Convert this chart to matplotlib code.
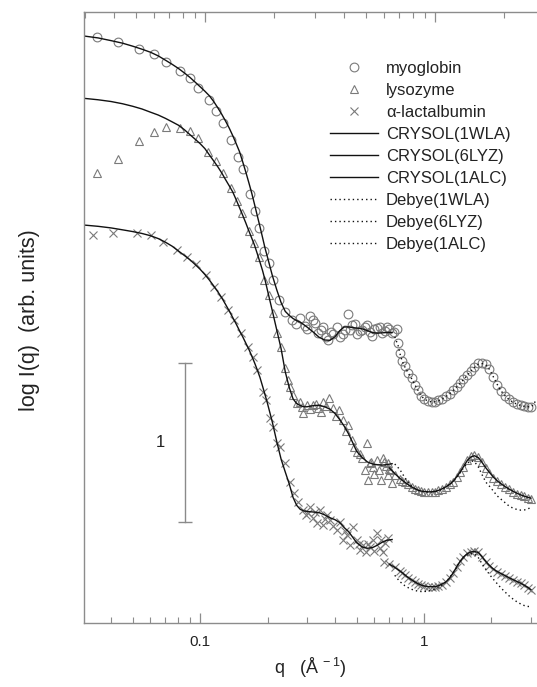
import numpy as np
import matplotlib
matplotlib.use("Agg")
import matplotlib.pyplot as plt
from matplotlib.ticker import LogLocator, NullFormatter, FixedLocator, FixedFormatter

plt.rcParams['font.family'] = ['Liberation Sans', 'DejaVu Sans']
plt.rcParams['mathtext.fontset'] = 'custom'
plt.rcParams['mathtext.rm'] = 'Liberation Sans'
plt.rcParams['mathtext.it'] = 'Liberation Sans'

# ---------------- data (q in 1/Angstrom, log I in arbitrary offset units) ----------------
# low-q experimental points
myo_low_q = [0.0348, 0.0430, 0.0535, 0.0624, 0.0705, 0.0815, 0.0902, 0.0977, 0.110, 0.118,
             0.126, 0.1375, 0.1474, 0.155, 0.167, 0.176, 0.184, 0.193, 0.204, 0.2125,
             0.226, 0.2395, 0.2566, 0.279, 0.294, 0.310, 0.326, 0.3375, 0.355, 0.373,
             0.3936, 0.422, 0.444, 0.459, 0.477, 0.502, 0.529, 0.557, 0.586, 0.617,
             0.649, 0.684, 0.720, 0.757,
             0.268, 0.300, 0.318, 0.345, 0.364, 0.384, 0.408, 0.433, 0.468, 0.490,
             0.515, 0.543, 0.571, 0.600, 0.633, 0.666, 0.700, 0.738]
myo_low = [3.684, 3.656, 3.612, 3.577, 3.530, 3.474, 3.426, 3.367, 3.289, 3.220,
           3.143, 3.038, 2.933, 2.853, 2.698, 2.593, 2.486, 2.340, 2.262, 2.157,
           2.031, 1.958, 1.906, 1.918, 1.868, 1.931, 1.887, 1.824, 1.862, 1.780,
           1.818, 1.799, 1.843, 1.943, 1.874, 1.818, 1.843, 1.874, 1.805, 1.855,
           1.824, 1.862, 1.824, 1.849,
           1.880, 1.850, 1.905, 1.840, 1.800, 1.830, 1.860, 1.820, 1.845, 1.880,
           1.835, 1.860, 1.830, 1.850, 1.860, 1.835, 1.850, 1.830]

lys_low_q = [0.0346, 0.0430, 0.0535, 0.0624, 0.0705, 0.0815, 0.0902, 0.0983, 0.1089, 0.118,
             0.126, 0.1375, 0.146, 0.1545, 0.166, 0.1745, 0.184, 0.193, 0.204, 0.2113,
             0.220, 0.229, 0.2395, 0.247, 0.252, 0.261, 0.270, 0.279, 0.289, 0.299,
             0.3206, 0.3375, 0.355, 0.378, 0.3936, 0.415, 0.4365, 0.459, 0.4754, 0.501,
             0.527, 0.5546, 0.574, 0.615, 0.658, 0.693, 0.56, 0.60, 0.64, 0.69, 0.72,
             0.284, 0.310, 0.330, 0.346, 0.366, 0.404, 0.447, 0.488, 0.515, 0.590,
             0.630, 0.675, 0.705, 0.580, 0.545]
lys_low = [2.828, 2.916, 3.031, 3.086, 3.118, 3.115, 3.096, 3.052, 2.964, 2.906,
           2.828, 2.738, 2.654, 2.577, 2.465, 2.390, 2.300, 2.157, 2.065, 1.948,
           1.822, 1.738, 1.602, 1.528, 1.486, 1.434, 1.382, 1.392, 1.319, 1.371,
           1.371, 1.350, 1.392, 1.413, 1.350, 1.340, 1.277, 1.245, 1.151, 1.077,
           1.036, 1.134, 1.004, 1.025, 1.036, 1.004, 0.900, 0.940, 0.900, 0.930, 0.880,
           1.360, 1.345, 1.380, 1.330, 1.365, 1.300, 1.210, 1.110, 1.060, 0.980,
           0.960, 0.985, 0.960, 1.010, 0.960]

lac_low_q = [0.0334, 0.0410, 0.0521, 0.0602, 0.0686, 0.0787, 0.0878, 0.0960, 0.1064, 0.1159,
             0.124, 0.1337, 0.142, 0.1525, 0.1643, 0.1718, 0.1804, 0.1918, 0.197, 0.2053,
             0.2118, 0.2207, 0.2276, 0.2395, 0.252, 0.263, 0.2748, 0.289, 0.297, 0.310,
             0.3194, 0.332, 0.3433, 0.354, 0.368, 0.380, 0.4076, 0.422, 0.4365, 0.453,
             0.4675, 0.483, 0.502, 0.518, 0.5345, 0.551, 0.574, 0.5916, 0.615, 0.636,
             0.656, 0.670, 0.691,
             0.303, 0.325, 0.360, 0.393, 0.445, 0.510, 0.560, 0.600, 0.645]
lac_low = [2.440, 2.455, 2.451, 2.440, 2.398, 2.346, 2.304, 2.258, 2.189, 2.115,
           2.052, 1.969, 1.906, 1.822, 1.738, 1.675, 1.591, 1.455, 1.403, 1.289,
           1.230, 1.132, 1.107, 1.006, 0.889, 0.818, 0.763, 0.711, 0.679, 0.731,
           0.660, 0.627, 0.711, 0.616, 0.679, 0.648, 0.585, 0.635, 0.522, 0.553,
           0.491, 0.606, 0.522, 0.459, 0.491, 0.447, 0.480, 0.522, 0.564, 0.472,
           0.447, 0.501, 0.535,
           0.690, 0.700, 0.655, 0.610, 0.580, 0.500, 0.500, 0.455, 0.520]

# low-q CRYSOL curves
q_fit_low = [0.0303, 0.035, 0.04, 0.045, 0.05, 0.055, 0.06, 0.065, 0.07, 0.075,
             0.08, 0.085, 0.09, 0.095, 0.10, 0.105, 0.11, 0.115, 0.12, 0.125,
             0.13, 0.135, 0.14, 0.145, 0.15, 0.155, 0.16, 0.165, 0.17, 0.175,
             0.18, 0.185, 0.19, 0.195, 0.20, 0.21, 0.22, 0.23, 0.24, 0.25,
             0.26, 0.27, 0.28, 0.29, 0.30, 0.32, 0.34, 0.36, 0.38, 0.40,
             0.42, 0.44, 0.46, 0.48, 0.50, 0.53, 0.56, 0.59, 0.62, 0.65, 0.68, 0.72]
myo_crysol_low = [3.692, 3.680, 3.663, 3.647, 3.628, 3.609, 3.590, 3.567, 3.540, 3.514,
                  3.488, 3.460, 3.432, 3.402, 3.373, 3.345, 3.316, 3.280, 3.240, 3.199,
                  3.156, 3.112, 3.064, 3.014, 2.964, 2.900, 2.836, 2.770, 2.704, 2.633,
                  2.562, 2.494, 2.425, 2.357, 2.300, 2.187, 2.095, 2.015, 1.960, 1.935,
                  1.915, 1.902, 1.892, 1.877, 1.862, 1.830, 1.797, 1.780, 1.778, 1.800,
                  1.838, 1.862, 1.862, 1.858, 1.855, 1.850, 1.838, 1.826, 1.823, 1.825, 1.827, 1.828]
lys_crysol_low = [3.300, 3.291, 3.280, 3.266, 3.250, 3.233, 3.213, 3.195, 3.174, 3.152,
                  3.131, 3.103, 3.072, 3.043, 3.015, 2.984, 2.944, 2.906, 2.869, 2.830,
                  2.788, 2.749, 2.710, 2.661, 2.612, 2.564, 2.516, 2.467, 2.421, 2.376,
                  2.323, 2.270, 2.217, 2.157, 2.091, 1.965, 1.842, 1.725, 1.580, 1.482,
                  1.410, 1.380, 1.368, 1.360, 1.360, 1.367, 1.370, 1.360, 1.345, 1.318,
                  1.280, 1.238, 1.190, 1.135, 1.080, 1.040, 1.012, 1.000, 0.995, 0.993, 0.996, 1.002]
lac_crysol_low = [2.503, 2.495, 2.485, 2.473, 2.462, 2.450, 2.436, 2.418, 2.395, 2.370,
                  2.340, 2.312, 2.285, 2.255, 2.225, 2.192, 2.157, 2.120, 2.083, 2.045,
                  2.003, 1.962, 1.920, 1.880, 1.838, 1.800, 1.760, 1.722, 1.680, 1.637,
                  1.592, 1.545, 1.490, 1.435, 1.380, 1.265, 1.140, 1.030, 0.950, 0.875,
                  0.790, 0.740, 0.715, 0.705, 0.702, 0.698, 0.694, 0.680, 0.662, 0.650,
                  0.632, 0.600, 0.575, 0.540, 0.505, 0.478, 0.470, 0.475, 0.490, 0.508, 0.520, 0.525]

# high-q (wide angle) region
myo_high_q = [0.766, 0.78, 0.80, 0.82, 0.85, 0.88, 0.91, 0.94, 0.97, 1.00,
              1.04, 1.08, 1.12, 1.16, 1.20, 1.25, 1.30, 1.35, 1.40, 1.45,
              1.50, 1.56, 1.62, 1.68, 1.75, 1.82, 1.89, 1.96, 2.04, 2.12,
              2.20, 2.30, 2.40, 2.50, 2.60, 2.70, 2.80, 2.90, 3.00]
myo_high = [1.759, 1.700, 1.645, 1.615, 1.575, 1.540, 1.500, 1.465, 1.430, 1.410,
            1.397, 1.392, 1.393, 1.400, 1.410, 1.425, 1.443, 1.465, 1.487, 1.509,
            1.533, 1.561, 1.588, 1.612, 1.633, 1.636, 1.627, 1.598, 1.548, 1.500,
            1.460, 1.430, 1.407, 1.390, 1.378, 1.370, 1.365, 1.361, 1.358]
myo_debye_q = [0.74, 0.766, 0.78, 0.80, 0.82, 0.85, 0.88, 0.91, 0.94, 0.97, 1.00,
               1.04, 1.08, 1.12, 1.16, 1.20, 1.25, 1.30, 1.35, 1.40, 1.45,
               1.50, 1.56, 1.62, 1.68, 1.75, 1.82, 1.89, 1.96, 2.04, 2.12,
               2.20, 2.30, 2.40, 2.50, 2.60, 2.70, 2.80, 2.90, 3.00, 3.10, 3.16]
myo_debye = [1.800, 1.745, 1.695, 1.645, 1.612, 1.572, 1.537, 1.498, 1.463, 1.430, 1.410,
             1.396, 1.391, 1.392, 1.398, 1.408, 1.423, 1.442, 1.463, 1.485, 1.507,
             1.531, 1.558, 1.585, 1.608, 1.628, 1.632, 1.622, 1.595, 1.548, 1.502,
             1.462, 1.430, 1.405, 1.388, 1.376, 1.368, 1.363, 1.360, 1.360, 1.375, 1.410]

q_high = [0.66, 0.70, 0.74, 0.78, 0.80, 0.82, 0.85, 0.88, 0.91, 0.94,
          0.97, 1.00, 1.04, 1.08, 1.12, 1.16, 1.20, 1.25, 1.30, 1.35,
          1.40, 1.45, 1.50, 1.56, 1.62, 1.68, 1.75, 1.82, 1.89, 1.96,
          2.04, 2.12, 2.20, 2.30, 2.40, 2.50, 2.60, 2.70, 2.80, 2.90, 3.00]
lys_high = [1.010, 0.967, 0.932, 0.905, 0.895, 0.886, 0.872, 0.856, 0.843, 0.835,
            0.829, 0.826, 0.825, 0.825, 0.827, 0.834, 0.843, 0.856, 0.872, 0.889,
            0.918, 0.948, 0.982, 1.025, 1.048, 1.057, 1.045, 1.010, 0.975, 0.945,
            0.915, 0.893, 0.875, 0.857, 0.840, 0.825, 0.813, 0.804, 0.796, 0.789, 0.783]
lys_crysol_high = [np.nan, 0.975, 0.940, 0.910, 0.897, 0.886, 0.870, 0.856, 0.845, 0.836,
                   0.830, 0.827, 0.825, 0.825, 0.828, 0.834, 0.843, 0.856, 0.872, 0.892,
                   0.920, 0.950, 0.983, 1.022, 1.045, 1.052, 1.040, 1.008, 0.975, 0.947,
                   0.918, 0.895, 0.877, 0.858, 0.842, 0.828, 0.816, 0.806, 0.798, 0.791, 0.785]
lys_debye_high = [np.nan, np.nan, 1.000, 0.965, 0.940, 0.915, 0.885, 0.860, 0.845, 0.835,
                  0.829, 0.826, 0.824, 0.824, 0.826, 0.832, 0.841, 0.854, 0.870, 0.889,
                  0.915, 0.945, 0.975, 1.005, 1.020, 1.015, 0.980, 0.930, 0.885, 0.860,
                  0.830, 0.800, 0.780, 0.757, 0.735, 0.722, 0.714, 0.710, 0.711, 0.716, 0.728]
lac_high = [0.385, 0.368, 0.350, 0.325, 0.315, 0.302, 0.285, 0.270, 0.257, 0.246,
            0.238, 0.232, 0.228, 0.227, 0.228, 0.232, 0.242, 0.256, 0.280, 0.315,
            0.355, 0.390, 0.418, 0.438, 0.449, 0.452, 0.446, 0.415, 0.385, 0.360,
            0.338, 0.322, 0.311, 0.297, 0.283, 0.271, 0.260, 0.249, 0.236, 0.222, 0.205]
lac_crysol_high = [np.nan, 0.370, 0.350, 0.327, 0.316, 0.303, 0.286, 0.271, 0.258, 0.247,
                   0.239, 0.233, 0.229, 0.228, 0.229, 0.234, 0.244, 0.258, 0.282, 0.316,
                   0.354, 0.388, 0.415, 0.436, 0.447, 0.450, 0.443, 0.415, 0.386, 0.362,
                   0.340, 0.324, 0.312, 0.298, 0.284, 0.272, 0.261, 0.250, 0.238, 0.225, 0.210]
lac_debye_high = [np.nan, np.nan, 0.300, 0.260, 0.248, 0.235, 0.222, 0.212, 0.205, 0.200,
                  0.198, 0.198, 0.200, 0.205, 0.212, 0.222, 0.237, 0.258, 0.285, 0.318,
                  0.352, 0.385, 0.410, 0.428, 0.437, 0.435, 0.410, 0.370, 0.337, 0.305,
                  0.275, 0.248, 0.222, 0.195, 0.170, 0.150, 0.133, 0.120, 0.110, 0.104, 0.104]

# scale bar (one decade of intensity)
scale_bar_q = 0.0857
scale_bar_bottom = 0.637
scale_bar_len = 1.0
scale_label_q = 0.0663
scale_label = "1"

legend_labels = ["myoglobin", "lysozyme", "\u03b1-lactalbumin",
                 "CRYSOL(1WLA)", "CRYSOL(6LYZ)", "CRYSOL(1ALC)",
                 "Debye(1WLA)", "Debye(6LYZ)", "Debye(1ALC)"]
x_ticks = [0.1, 1.0]
x_tick_labels = ["0.1", "1"]

# ---------------- figure ----------------
W, H = 537, 687
fig = plt.figure(figsize=(W / 100, H / 100), dpi=100)
ax = fig.add_axes([84 / W, 64 / H, (W - 84) / W, (623 - 12) / H])
ax.set_xscale('log')
ax.set_xlim(0.0303, 3.195)
ax.set_ylim(0, 3.843)

gray = '#7a7a7a'
ms = 6.3
mk = dict(linestyle='none', markerfacecolor='none', markeredgecolor=gray, markeredgewidth=0.8)

h_myo, = ax.plot(myo_low_q, myo_low, marker='o', markersize=ms, **mk)
ax.plot(myo_high_q, myo_high, marker='o', markersize=ms, **mk)
h_lys, = ax.plot(lys_low_q, lys_low, marker='^', markersize=ms, **mk)
ax.plot(q_high, lys_high, marker='^', markersize=ms, **mk)
h_lac, = ax.plot(lac_low_q, lac_low, marker='x', markersize=ms, **mk)
ax.plot(q_high, lac_high, marker='x', markersize=ms, **mk)

lw = 1.0
h_c1, = ax.plot(q_fit_low, myo_crysol_low, color='#111111', lw=lw)
h_c2, = ax.plot(q_fit_low, lys_crysol_low, color='#111111', lw=lw)
h_c3, = ax.plot(q_fit_low, lac_crysol_low, color='#111111', lw=lw)
ax.plot(q_high, lys_crysol_high, color='#111111', lw=lw)
ax.plot(q_high, lac_crysol_high, color='#111111', lw=lw)

dot = dict(color='#111111', lw=1.0, linestyle=(0, (1, 2.2)))
h_d1, = ax.plot(myo_debye_q, myo_debye, **dot)
h_d2, = ax.plot(q_high, lys_debye_high, **dot)
h_d3, = ax.plot(q_high, lac_debye_high, **dot)

# scale bar
bar_color = '#8a8a8a'
ax.plot([scale_bar_q, scale_bar_q], [scale_bar_bottom, scale_bar_bottom + scale_bar_len],
        color=bar_color, lw=1.0)
ax.plot([scale_bar_q, scale_bar_q], [scale_bar_bottom, scale_bar_bottom + scale_bar_len],
        linestyle='none', marker='_', markersize=10, markeredgewidth=1.0, color=bar_color)
ax.text(scale_label_q, scale_bar_bottom + scale_bar_len / 2, scale_label,
        fontsize=12, ha='center', va='center', color='#222222')

# axes styling
spine_c = '#8c8c8c'
for s in ['left', 'bottom', 'top']:
    ax.spines[s].set_color(spine_c)
    ax.spines[s].set_linewidth(1.0)
ax.spines['right'].set_visible(False)
ax.set_yticks([])
ax.xaxis.set_major_locator(FixedLocator(x_ticks))
ax.xaxis.set_major_formatter(FixedFormatter(x_tick_labels))
ax.xaxis.set_minor_locator(LogLocator(base=10, subs=np.arange(2, 10), numticks=20))
ax.xaxis.set_minor_formatter(NullFormatter())
ax.tick_params(axis='x', which='major', direction='in', length=7, width=0.9, color=spine_c,
               labelsize=11, pad=9, labelcolor='#222222')
ax.tick_params(axis='x', which='minor', direction='in', length=4, width=0.8, color=spine_c)

# top axis (slightly offset scale in the original drawing)
def fwd(q):
    q = np.asarray(q, dtype=float)
    return 10 ** (-1 + (224 * np.log10(q) + 219) / 230)

def inv(t):
    t = np.asarray(t, dtype=float)
    return 10 ** ((230 * (np.log10(t) + 1) - 219) / 224)

sec = ax.secondary_xaxis('top', functions=(fwd, inv))
sec.set_xscale('log')
sec.xaxis.set_major_locator(FixedLocator(x_ticks))
sec.xaxis.set_minor_locator(LogLocator(base=10, subs=np.arange(2, 10), numticks=20))
sec.xaxis.set_major_formatter(NullFormatter())
sec.xaxis.set_minor_formatter(NullFormatter())
sec.tick_params(axis='x', which='major', direction='in', length=7, width=0.9, color=spine_c)
sec.tick_params(axis='x', which='minor', direction='in', length=4, width=0.8, color=spine_c)
sec.spines['top'].set_visible(False)

# labels
fig.text(310 / W, 1 - 668 / H, "q   (\u00c5$^{\\ -1}$)", fontsize=13, ha='center', va='center',
         color='#222222')
fig.text(30 / W, 1 - 320 / H, "log I(q)  (arb. units)", fontsize=15.5, rotation=90,
         ha='center', va='center', color='#222222')

# legend
handles = [h_myo, h_lys, h_lac, h_c1, h_c2, h_c3, h_d1, h_d2, h_d3]
leg = fig.legend(handles, legend_labels, loc='upper left',
                 bbox_to_anchor=(330 / W, 1 - 61 / H), frameon=False, fontsize=12,
                 handlelength=2.9, handletextpad=0.45, labelspacing=0.42,
                 borderpad=0, borderaxespad=0)
for t in leg.get_texts():
    t.set_color('#222222')

fig.savefig("out.png", dpi=100)
